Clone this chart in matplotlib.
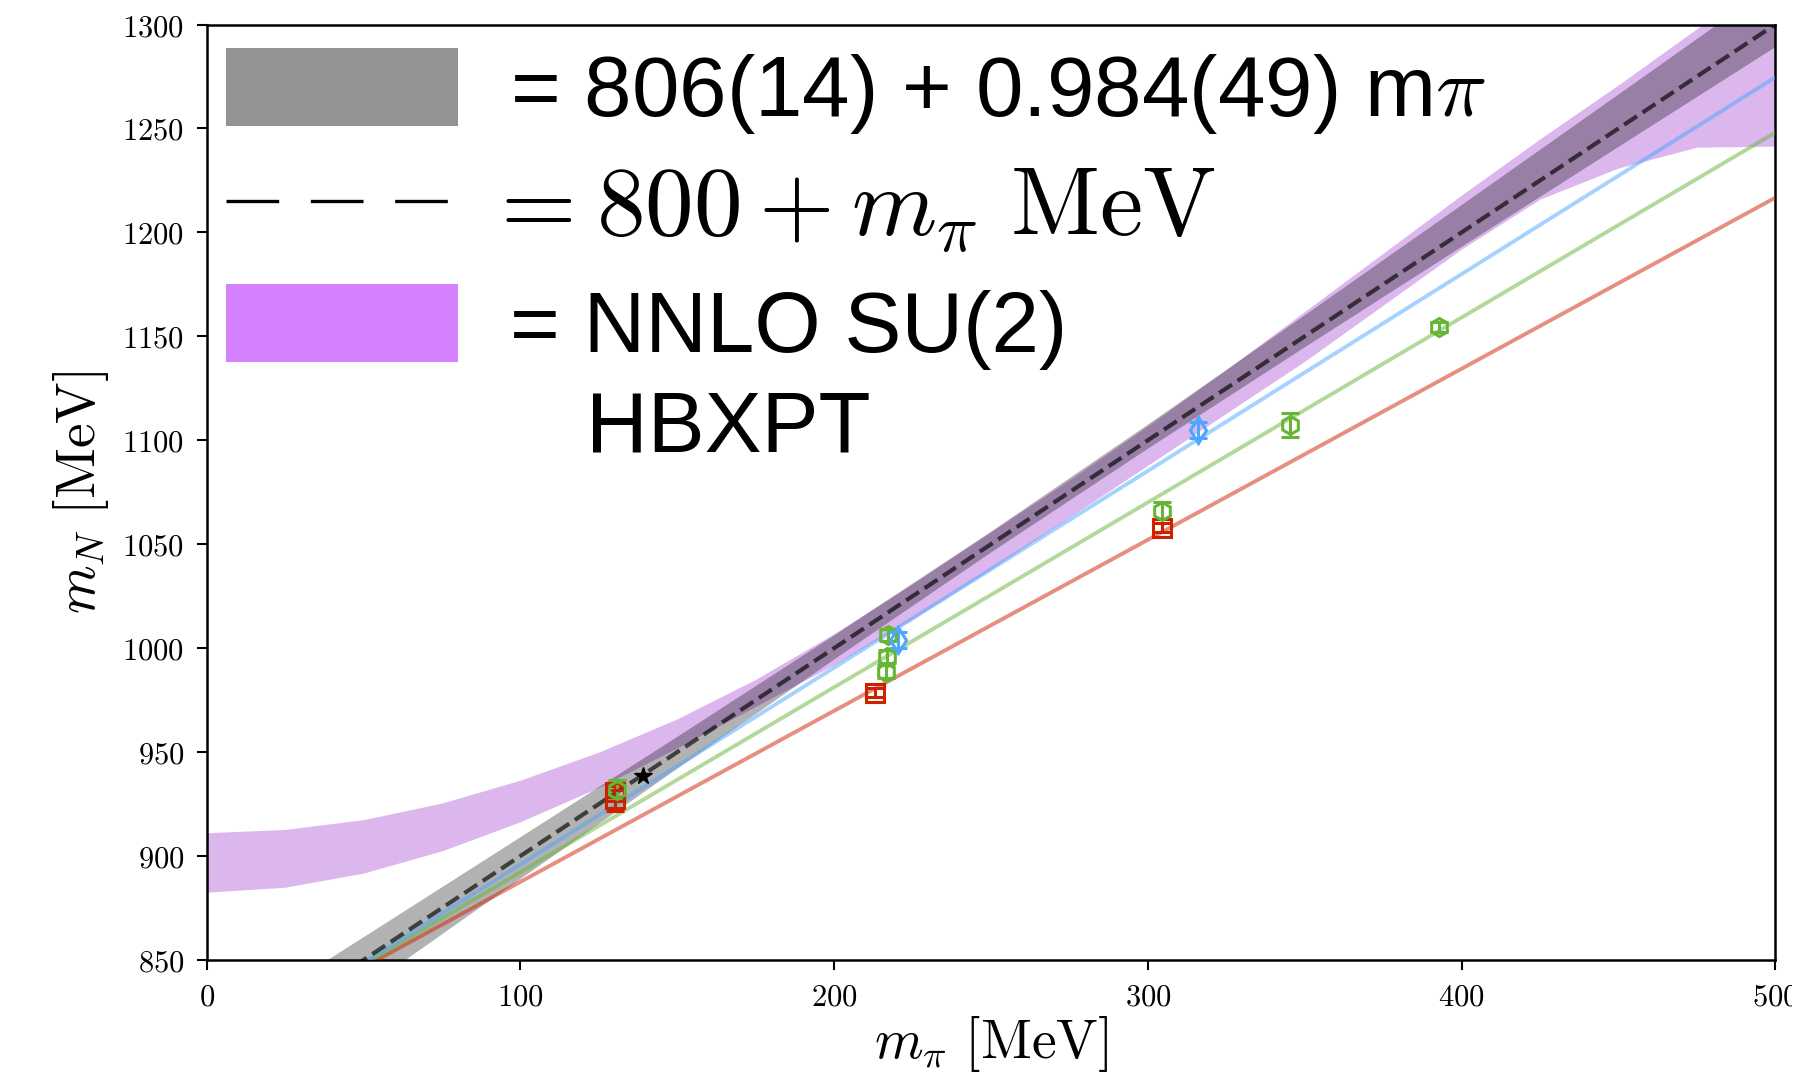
import matplotlib
matplotlib.use("Agg")
import matplotlib.pyplot as plt
from matplotlib.patches import Patch
from matplotlib.lines import Line2D
from matplotlib.transforms import Bbox, TransformedBbox

plt.rcParams["mathtext.fontset"] = "cm"

# NNLO SU(2) HBXPT band (purple)
nnlo_x = [0, 25, 50, 75, 100, 125, 150, 175, 200, 225, 250,
          275, 300, 325, 350, 375, 400, 425, 450, 475, 500]
nnlo_lo = [882.6, 885.0, 891.8, 902.5, 916.5, 933.0, 952.0, 972.0, 992.0, 1014.0, 1038.0,
           1063.0, 1088.0, 1113.0, 1138.0, 1165.0, 1192.0, 1216.0, 1231.0, 1241.0, 1241.5]
nnlo_hi = [911.2, 912.8, 917.5, 925.5, 936.5, 950.0, 966.0, 985.0, 1007.0, 1031.0, 1056.0,
           1081.0, 1107.0, 1134.0, 1162.0, 1190.0, 1218.0, 1245.0, 1271.0, 1298.0, 1327.0]

# linear fit band (gray)
fit_x = [0, 50, 100, 150, 200, 250, 300, 350, 400, 450, 500]
fit_lo = [782.3, 835.7, 888.9, 942.0, 994.5, 1046.0, 1095.9, 1144.7, 1193.0, 1241.1, 1289.1]
fit_hi = [812.9, 860.9, 909.0, 957.3, 1006.1, 1056.0, 1107.5, 1160.1, 1213.1, 1266.3, 1319.7]

# "800 + m_pi" reference line
ref_x = [0, 500]
ref_y = [800, 1300]

# per-ensemble fit lines
line_x = [0, 500]
blue_line = [801.3, 1274.6]
green_line = [803.3, 1248.0]
red_line = [805.3, 1216.7]

# lattice data
red_x = [130.0, 130.3, 213.0, 304.4]
red_y = [931.0, 927.5, 978.6, 1058.0]
red_err = [2.5, 6.0, 2.0, 2.0]
green_x = [130.7, 216.5, 216.8, 217.2, 304.4, 345.3, 392.9]
green_y = [931.8, 988.7, 995.9, 1006.3, 1066.1, 1107.3, 1154.6]
green_err = [5.0, 3.0, 3.0, 3.0, 4.0, 5.6, 2.5]
blue_x = [220.3, 315.9]
blue_y = [1003.9, 1104.9]
blue_err = [4.0, 4.0]
phys_x = [139.0]
phys_y = [938.7]

RED = "#cc2200"
GREEN = "#66b536"
BLUE = "#4da6ff"

W, H = 1819, 1075
fig = plt.figure(figsize=(W / 100, H / 100), dpi=100)
ax = fig.add_axes([0.1136, 0.1070, 0.8624, 0.8702])

ax.fill_between(nnlo_x, nnlo_lo, nnlo_hi, color="#9933cc", alpha=0.35, lw=0, zorder=1)
ax.fill_between(fit_x, fit_lo, fit_hi, color="k", alpha=0.3, lw=0, zorder=2)

ax.plot(line_x, red_line, color=RED, alpha=0.5, lw=2.8, zorder=3)
ax.plot(line_x, green_line, color=GREEN, alpha=0.5, lw=2.8, zorder=3)
ax.plot(line_x, blue_line, color=BLUE, alpha=0.5, lw=2.8, zorder=3)
ax.plot(ref_x, ref_y, color="k", alpha=0.65, lw=3, ls="--", zorder=4)

kw = dict(mfc="none", ms=13, mew=2.2, elinewidth=2.2, capsize=6.5, capthick=2.2, ls="none", zorder=5)
ax.errorbar(red_x, red_y, yerr=red_err, fmt="s", mec=RED, ecolor=RED, **kw)
ax.errorbar(green_x, green_y, yerr=green_err, fmt="h", mec=GREEN, ecolor=GREEN, **kw)
ax.errorbar(blue_x, blue_y, yerr=blue_err, fmt="d", mec=BLUE, ecolor=BLUE, **kw)
ax.plot(phys_x, phys_y, "*", color="k", ms=13, zorder=6)

ax.set_xlim(0, 500)
ax.set_ylim(850, 1300)
xt = [0, 100, 200, 300, 400, 500]
yt = [850, 900, 950, 1000, 1050, 1100, 1150, 1200, 1250, 1300]
ax.set_xticks(xt)
ax.set_xticklabels([f"${v}$" for v in xt])
ax.set_yticks(yt)
ax.set_yticklabels([f"${v}$" for v in yt])
ax.tick_params(labelsize=22, length=7, width=1.5, pad=9, direction="out")
for s in ax.spines.values():
    s.set_linewidth(1.8)

# the last x tick label is cut at the right edge in the original
last = ax.get_xticklabels()[-1]
last.set_clip_box(TransformedBbox(Bbox([[0, 0], [1792 / W, 1]]), fig.transFigure))
last.set_clip_on(True)

ax.set_xlabel(r"$m_\pi\ [\mathrm{MeV}]$", fontsize=40, labelpad=2)
ax.set_ylabel(r"$m_N\ [\mathrm{MeV}]$", fontsize=40, labelpad=8)

handles = [
    Patch(facecolor="#939393", edgecolor="none"),
    Line2D([], [], color="k", lw=2.4, dashes=(15.8, 9.5)),
    Patch(facecolor="#d580ff", edgecolor="none"),
]
labels = [
    r"= 806(14) + 0.984(49) m$\pi$",
    r"${=}\hspace{0.04}800 + m_\pi\ \mathrm{MeV}$",
    "= NNLO SU(2)",
]
leg = ax.legend(handles, labels, loc="upper left", bbox_to_anchor=(0.0123, 0.975),
                prop={"family": "Liberation Sans", "size": 61.5}, frameon=False,
                handlelength=2.72, handleheight=1.03, handletextpad=0.6,
                labelspacing=0.34, borderpad=0, borderaxespad=0)
leg.get_texts()[1].set_fontsize(70)
leg.get_texts()[1].set_x(-27)

fig.text(586 / W, 1 - 452 / H, "HBXPT", family="Liberation Sans", fontsize=61.5,
         va="baseline", ha="left")

fig.savefig("out.png", dpi=100)
